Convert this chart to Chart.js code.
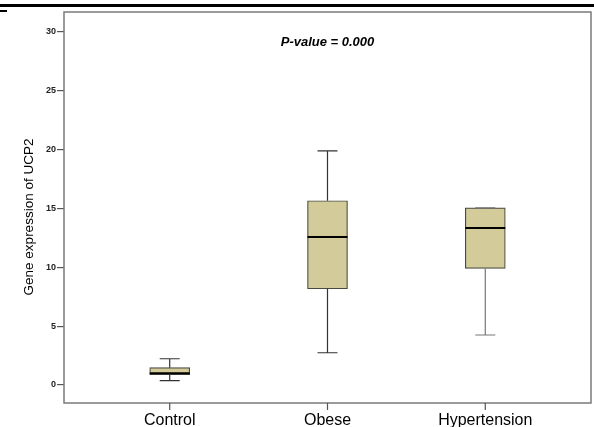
<!DOCTYPE html>
<html>
<head>
<meta charset="utf-8">
<title>Gene expression of UCP2</title>
<script src="https://cdn.jsdelivr.net/npm/chart.js@4.4.1/dist/chart.umd.min.js"></script>
<style>
  body { margin: 0; background: #fff; }
  #wrap { position: relative; width: 594px; height: 427px; overflow: hidden; }
  #topRule { position: absolute; left: 0; top: 4px; width: 594px; height: 3px; background: #000; }
  #topDash { position: absolute; left: 0; top: 10px; width: 7px; height: 2px; background: #000; }
  canvas { position: absolute; left: 0; top: 0; }
</style>
</head>
<body>
<div id="wrap">
  <canvas id="chart" width="594" height="427"></canvas>
  <div id="topRule"></div>
  <div id="topDash"></div>
</div>
<script>
// Box plot values
const categories = ['Control', 'Obese', 'Hypertension'];
const whiskerLow = [0.37, 2.74, 4.25];
const q1 = [0.88, 8.18, 9.91];
const median = [0.99, 12.57, 13.34];
const q3 = [1.47, 15.66, 15.06];
const whiskerHigh = [2.23, 19.9, 15.06];
const whiskerColor = ['#333', '#333', '#777'];
const yTicks = [0, 5, 10, 15, 20, 25, 30];
const xTicks = [0, 1, 2];

const boxFill = '#d3cc9a';
const fontFamily = "'Liberation Sans', Arial, sans-serif";

// whiskers, medians, frame, x tick marks and annotation
const boxPlotExtras = {
  id: 'boxPlotExtras',
  beforeDatasetsDraw(chart) {
    const ctx = chart.ctx;
    const a = chart.chartArea;
    const x = chart.scales.x;
    ctx.save();
    ctx.strokeStyle = '#7a7a7a';
    ctx.lineWidth = 1.5;
    ctx.strokeRect(a.left, a.top, a.right - a.left, a.bottom - a.top);
    ctx.strokeStyle = '#555';
    ctx.lineWidth = 1.2;
    ctx.beginPath();
    xTicks.forEach(v => {
      const px = x.getPixelForValue(v);
      ctx.moveTo(px, a.bottom);
      ctx.lineTo(px, a.bottom + 7);
    });
    ctx.stroke();
    ctx.restore();
  },
  afterDatasetsDraw(chart) {
    const ctx = chart.ctx;
    const x = chart.scales.x;
    const y = chart.scales.y;
    ctx.save();
    categories.forEach((c, i) => {
      const px = x.getPixelForValue(i);
      ctx.strokeStyle = whiskerColor[i];
      ctx.lineWidth = 1.2;
      ctx.beginPath();
      ctx.moveTo(px, y.getPixelForValue(whiskerHigh[i]));
      ctx.lineTo(px, y.getPixelForValue(q3[i]));
      ctx.moveTo(px, y.getPixelForValue(q1[i]));
      ctx.lineTo(px, y.getPixelForValue(whiskerLow[i]));
      ctx.moveTo(px - 10, y.getPixelForValue(whiskerHigh[i]));
      ctx.lineTo(px + 10, y.getPixelForValue(whiskerHigh[i]));
      ctx.moveTo(px - 10, y.getPixelForValue(whiskerLow[i]));
      ctx.lineTo(px + 10, y.getPixelForValue(whiskerLow[i]));
      ctx.stroke();
      // median
      ctx.strokeStyle = '#000';
      ctx.lineWidth = 2;
      ctx.beginPath();
      ctx.moveTo(px - 20, y.getPixelForValue(median[i]));
      ctx.lineTo(px + 20, y.getPixelForValue(median[i]));
      ctx.stroke();
    });
    const a = chart.chartArea;
    ctx.fillStyle = '#000';
    ctx.textAlign = 'center';
    ctx.textBaseline = 'middle';
    ctx.font = 'italic bold 13px ' + fontFamily;
    ctx.fillText('P-value = 0.000', (a.left + a.right) / 2, 42);
    // y axis title
    ctx.translate(29, 217);
    ctx.rotate(-Math.PI / 2);
    ctx.font = '13.5px ' + fontFamily;
    ctx.fillText('Gene expression of UCP2', 0, 0);
    ctx.restore();
  }
};

const ctx = document.getElementById('chart').getContext('2d');
const chart = new Chart(ctx, {
  type: 'bar',
  data: {
    datasets: [{
      data: categories.map((c, i) => ({ x: i, y: [q1[i], q3[i]] })),
      backgroundColor: boxFill,
      borderColor: '#4a4a40',
      borderWidth: 1.2,
      borderSkipped: false,
      barThickness: 40
    }]
  },
  options: {
    responsive: false,
    animation: false,
    layout: { padding: { top: 12, right: 3, left: 0, bottom: 0 } },
    plugins: { legend: { display: false }, tooltip: { enabled: false } },
    scales: {
      x: {
        type: 'linear',
        min: -0.67,
        max: 2.67,
        offset: false,
        afterBuildTicks: s => { s.ticks = xTicks.map(v => ({ value: v })); },
        afterFit: s => { s.height = 24; },
        border: { display: false },
        grid: { display: false, tickLength: 7 },
        ticks: {
          callback: v => categories[v],
          color: '#000',
          padding: 1,
          maxRotation: 0,
          font: { size: 16, family: fontFamily }
        }
      },
      y: {
        min: -1.53,
        max: 31.7,
        afterBuildTicks: s => { s.ticks = yTicks.map(v => ({ value: v })); },
        afterFit: s => { s.width = 64; },
        border: { display: false },
        grid: { drawOnChartArea: false, tickLength: 7, color: '#555', lineWidth: 1.2 },
        ticks: {
          color: '#222',
          padding: 1,
          font: { size: 9, weight: 'bold', family: fontFamily }
        }
      }
    }
  },
  plugins: [boxPlotExtras]
});
</script>
</body>
</html>
